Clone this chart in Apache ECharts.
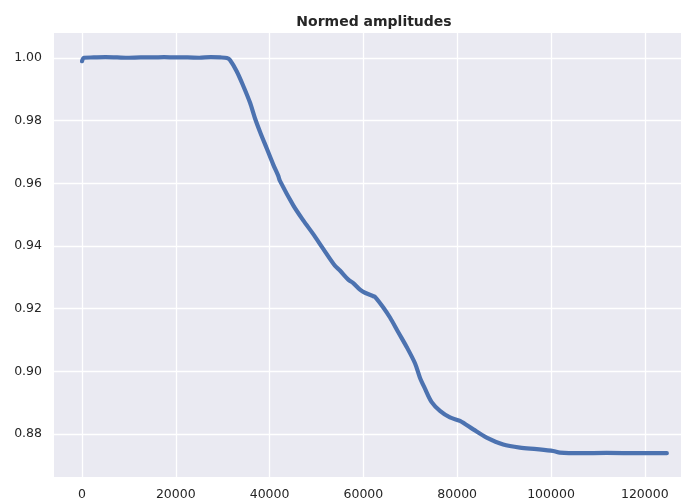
<!DOCTYPE html>
<html>
<head>
<meta charset="utf-8">
<script src="https://cdn.jsdelivr.net/npm/echarts@6/dist/echarts.min.js"></script>
<style>
  html, body { margin: 0; padding: 0; background: #ffffff; }
  #chart { width: 681px; height: 501px; }
</style>
</head>
<body>
<div id="chart"></div>
<script>
// Sample index and normed amplitude along the recording
const sampleIndex = [
  0, 400, 2500, 5000, 7500, 10000, 12500, 15000, 17500, 20000,
  22500, 25000, 27500, 29500, 30900, 31550, 32980, 34390, 35820, 36880,
  37950, 39380, 40780, 41850, 42210, 45050, 47180, 49310, 51440, 53940,
  55000, 56780, 57840, 59270, 60340, 62110, 62470, 64240, 65670, 67440,
  69230, 71000, 72060, 73130, 74560, 76330, 78460, 80590, 83420, 86280,
  89820, 93380, 96940, 100480, 101910, 106170, 111860, 118960, 124700
];
const amplitudes = [
  0.9990, 1.0001, 1.0002, 1.0003, 1.0002, 1.0001, 1.0002, 1.0002, 1.0003, 1.0002,
  1.0002, 1.0001, 1.0003, 1.0002, 1.0000, 0.9994, 0.9958, 0.9911, 0.9858, 0.9808,
  0.9765, 0.9712, 0.9660, 0.9624, 0.9608, 0.9530, 0.9482, 0.9438, 0.9391, 0.9337,
  0.9322, 0.9293, 0.9282, 0.9261, 0.9251, 0.9240, 0.9238, 0.9204, 0.9172, 0.9125,
  0.9078, 0.9026, 0.8980, 0.8945, 0.8902, 0.8874, 0.8853, 0.8842, 0.8815, 0.8789,
  0.8767, 0.8757, 0.8752, 0.8746, 0.8741, 0.8739, 0.8740, 0.8739, 0.8739
];

// Tick positions on both axes
const xTicks = [0, 20000, 40000, 60000, 80000, 100000, 120000];
const yTicks = [0.88, 0.90, 0.92, 0.94, 0.96, 0.98, 1.00];

const titleText = 'Normed amplitudes';

const lineData = sampleIndex.map((x, i) => [x, amplitudes[i]]);
const gridLines = xTicks.map(v => ({ xAxis: v })).concat(yTicks.map(v => ({ yAxis: v })));

const font = 'DejaVu Sans';
const chart = echarts.init(document.getElementById('chart'), null, { renderer: 'canvas' });

chart.setOption({
  animation: false,
  backgroundColor: '#ffffff',
  title: {
    text: titleText,
    left: 369,
    textAlign: 'center',
    top: 10,
    textStyle: { fontFamily: font, fontSize: 14, fontWeight: 'bold', color: '#262626' }
  },
  grid: {
    left: 54, right: 0, top: 33, bottom: 23,
    show: true, backgroundColor: '#EAEAF2', borderWidth: 0
  },
  xAxis: {
    type: 'value',
    min: -5970,
    max: 127720,
    axisLine: { show: false },
    axisTick: { show: false },
    splitLine: { show: false },
    axisLabel: {
      customValues: xTicks,
      fontFamily: font, fontSize: 12.5, color: '#262626', margin: 11,
      formatter: v => String(v)
    }
  },
  yAxis: {
    type: 'value',
    min: 0.8663,
    max: 1.0080,
    axisLine: { show: false },
    axisTick: { show: false },
    splitLine: { show: false },
    axisLabel: {
      customValues: yTicks,
      fontFamily: font, fontSize: 12.5, color: '#262626', margin: 12,
      formatter: v => v.toFixed(2)
    }
  },
  series: [
    {
      // white grid lines under the curve
      type: 'line',
      data: [],
      silent: true,
      z: 1,
      markLine: {
        silent: true,
        z: 1,
        symbol: 'none',
        label: { show: false },
        lineStyle: { color: '#ffffff', width: 1.3, type: 'solid' },
        data: gridLines,
        animation: false
      }
    },
    {
      type: 'line',
      data: lineData,
      z: 3,
      showSymbol: false,
      smooth: 0.3,
      lineStyle: { color: '#4C72B0', width: 4.2, join: 'round', cap: 'round' }
    }
  ]
});
</script>
</body>
</html>
